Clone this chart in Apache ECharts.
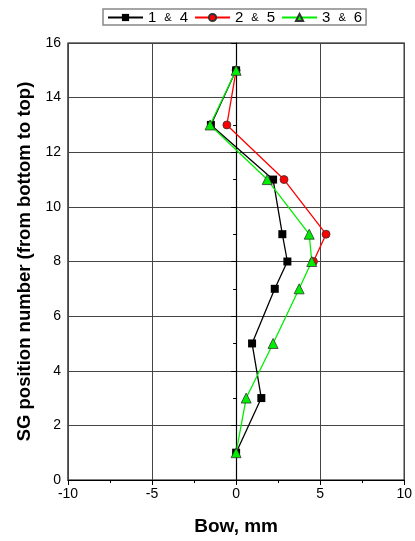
<!DOCTYPE html>
<html>
<head>
<meta charset="utf-8">
<script src="https://cdn.jsdelivr.net/npm/echarts@6/dist/echarts.min.js"></script>
<style>
  html, body { margin: 0; padding: 0; background: #fff; }
  #chart { width: 415px; height: 541px; }
</style>
</head>
<body>
<div id="chart"></div>
<script>
// SG positions (bottom to top) and bow readings in mm
const positions = [1, 3, 5, 7, 8, 9, 11, 13, 15];
const bow14 = [0, 1.5, 0.95, 2.3, 3.05, 2.75, 2.2, -1.5, 0];
const bow36 = [0, 0.6, 2.2, 3.75, 4.5, 4.35, 1.85, -1.55, 0];
// series 2 & 5 only recorded from position 8 upward
const positions25 = [8, 9, 11, 13, 15];
const bow25 = [4.6, 5.35, 2.85, -0.55, 0];

const seriesNames = ['1 & 4', '2 & 5', '3 & 6'];
const xTicks = { min: -10, max: 10, step: 5 };
const yTicks = { min: 0, max: 16, step: 2 };

const pairs = (xs, ys) => xs.map((x, i) => [x, ys[i]]);

const font = 'Liberation Sans, Arial, sans-serif';
const chart = echarts.init(document.getElementById('chart'));

const mk = (name, data, color, symbol, size, z) => ({
  name, type: 'line', data, z,
  symbol, symbolSize: size,
  lineStyle: { color, width: 1.3 },
  itemStyle: { color, borderColor: '#333', borderWidth: symbol === 'rect' ? 0 : 0.8 },
  emphasis: { disabled: true },
  animation: false
});

chart.setOption({
  animation: false,
  backgroundColor: '#fff',
  legend: {
    top: 9, left: 103,
    itemGap: 6,
    itemWidth: 35, itemHeight: 9,
    borderColor: '#888', borderWidth: 1.5,
    padding: [1, 4, 0, 4],
    formatter: name => {
      const [a, b] = name.split(' & ');
      return '{d|' + a + '}{s|&}{d|' + b + '}';
    },
    textStyle: {
      fontFamily: font, color: '#000',
      rich: {
        d: { fontFamily: font, fontSize: 15, color: '#000' },
        s: { fontFamily: font, fontSize: 11, color: '#000', padding: [0, 8, 0, 8] }
      }
    },
    data: seriesNames
  },
  grid: {
    left: 68, right: 6, top: 43, bottom: 59,
    show: true, borderColor: '#000', borderWidth: 1.2, backgroundColor: 'transparent'
  },
  xAxis: {
    type: 'value', min: xTicks.min, max: xTicks.max, interval: xTicks.step,
    name: 'Bow, mm', nameLocation: 'middle', nameGap: 37,
    nameTextStyle: { fontFamily: font, fontSize: 19, fontWeight: 'bold', color: '#000' },
    axisLine: { show: true, lineStyle: { color: '#000', width: 1.2 } },
    axisTick: { show: true, length: 5, lineStyle: { color: '#000' } },
    minorTick: { show: true, splitNumber: 2, length: 3, lineStyle: { color: '#000' } },
    axisLabel: { fontFamily: font, fontSize: 14, color: '#000', margin: 7 },
    splitLine: { show: true, lineStyle: { color: '#444', width: 1 } }
  },
  yAxis: {
    type: 'value', min: yTicks.min, max: yTicks.max, interval: yTicks.step,
    name: 'SG position number (from bottom to top)', nameLocation: 'middle', nameGap: 28,
    nameTextStyle: { fontFamily: font, fontSize: 18.5, fontWeight: 'bold', color: '#000' },
    axisLine: { show: true, lineStyle: { color: '#000', width: 1.2 } },
    axisTick: { show: true, length: 5, lineStyle: { color: '#000' } },
    minorTick: { show: true, splitNumber: 2, length: 3, lineStyle: { color: '#000' } },
    axisLabel: { fontFamily: font, fontSize: 14, color: '#000', margin: 7 },
    splitLine: { show: true, lineStyle: { color: '#444', width: 1 } }
  },
  series: [
    mk(seriesNames[0], pairs(bow14, positions), '#000000', 'rect', 8, 3),
    mk(seriesNames[1], pairs(bow25, positions25), '#ff0000', 'circle', 8, 2),
    mk(seriesNames[2], pairs(bow36, positions), '#00ee00', 'triangle', 10, 4)
  ]
});
</script>
</body>
</html>
